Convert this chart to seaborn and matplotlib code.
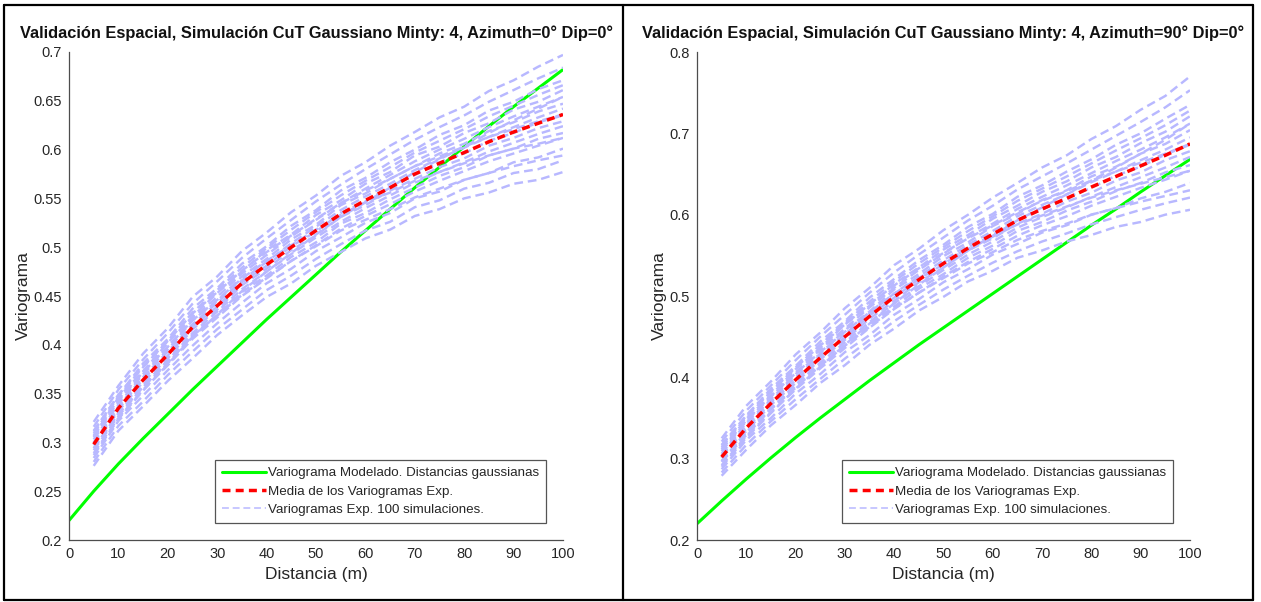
import numpy as np
import pandas as pd
import matplotlib
matplotlib.use("Agg")
import matplotlib.pyplot as plt
from matplotlib.lines import Line2D
from matplotlib.ticker import FuncFormatter
from matplotlib import font_manager
import seaborn as sns

# ---------------------------------------------------------------- data
lags = [5, 10, 15, 20, 25, 30, 35, 40, 45, 50, 55, 60, 65, 70, 75, 80, 85, 90, 95, 100]
model_lags = [0, 5, 10, 15, 20, 25, 30, 35, 40, 45, 50, 55, 60, 65, 70, 75, 80, 85, 90, 95, 100]

# variogram values below are stored in thousandths
model_az0 = [220, 250, 278, 304, 329, 354, 378, 402, 426, 449, 472, 495, 517, 539, 561, 582, 603, 624, 644, 663, 682]
mean_az0 = [298, 335, 364, 390, 418, 440, 463, 482, 500, 517, 534, 548, 561, 575, 586, 597, 608, 618, 627, 636]
sims_az0 = [
    [276, 312, 337, 363, 386, 410, 430, 449, 463, 481, 495, 509, 518, 532, 539, 550, 556, 565, 569, 577],
    [280, 317, 342, 369, 393, 416, 436, 456, 471, 488, 503, 517, 526, 541, 548, 560, 566, 576, 580, 589],
    [284, 322, 348, 374, 399, 422, 443, 463, 478, 496, 510, 525, 535, 550, 557, 569, 576, 587, 592, 601],
    [289, 325, 354, 379, 406, 428, 450, 468, 486, 502, 519, 532, 544, 557, 568, 578, 588, 596, 604, 612],
    [292, 327, 357, 381, 410, 430, 454, 471, 490, 505, 524, 535, 549, 561, 573, 582, 594, 601, 611, 617],
    [294, 330, 359, 384, 412, 434, 457, 475, 493, 510, 526, 540, 553, 566, 577, 587, 598, 607, 616, 624],
    [297, 332, 362, 386, 416, 436, 461, 478, 497, 512, 531, 543, 558, 570, 582, 591, 604, 612, 622, 629],
    [299, 334, 365, 389, 419, 439, 464, 481, 501, 516, 535, 547, 562, 574, 587, 596, 609, 617, 628, 635],
    [300, 337, 367, 393, 421, 443, 466, 485, 504, 521, 538, 552, 565, 579, 591, 602, 613, 623, 633, 642],
    [303, 339, 370, 395, 425, 445, 470, 488, 508, 523, 543, 555, 570, 583, 596, 606, 619, 628, 639, 647],
    [305, 342, 372, 398, 427, 449, 473, 492, 511, 528, 545, 560, 574, 588, 600, 611, 623, 634, 644, 654],
    [306, 346, 373, 402, 429, 453, 475, 497, 513, 533, 548, 565, 577, 594, 603, 617, 627, 641, 649, 661],
    [309, 347, 377, 404, 433, 456, 479, 499, 518, 536, 553, 568, 582, 597, 609, 621, 634, 645, 656, 666],
    [312, 348, 381, 406, 437, 458, 483, 501, 522, 538, 558, 571, 587, 600, 615, 625, 640, 649, 662, 671],
    [316, 354, 385, 412, 442, 465, 489, 509, 528, 547, 564, 580, 595, 610, 623, 635, 649, 661, 673, 684],
    [321, 358, 391, 417, 449, 470, 496, 515, 536, 553, 573, 587, 604, 618, 633, 644, 660, 671, 685, 697],
    [287, 324, 353, 380, 408, 431, 455, 475, 494, 513, 531, 546, 561, 577, 590, 603, 617, 630, 642, 654],
    [307, 344, 372, 398, 425, 446, 468, 486, 502, 518, 533, 546, 556, 568, 577, 586, 594, 601, 606, 612],
    [294, 329, 357, 382, 409, 430, 451, 469, 486, 501, 517, 528, 539, 551, 560, 569, 576, 583, 589, 594],
    [311, 349, 378, 404, 432, 454, 476, 495, 512, 529, 545, 558, 570, 583, 593, 603, 613, 621, 629, 636],
]

model_az90 = [220, 248, 275, 301, 326, 350, 373, 396, 418, 440, 461, 482, 503, 524, 545, 566, 587, 607, 628, 648, 668]
mean_az90 = [302, 338, 368, 397, 424, 450, 475, 499, 520, 540, 559, 576, 593, 607, 620, 634, 647, 660, 673, 687]
sims_az90 = [
    [279, 311, 341, 366, 393, 415, 440, 460, 482, 499, 518, 531, 547, 556, 567, 575, 585, 591, 600, 606],
    [283, 317, 346, 373, 398, 423, 446, 469, 489, 508, 525, 541, 555, 567, 577, 588, 597, 606, 614, 621],
    [287, 323, 350, 380, 404, 431, 452, 477, 496, 517, 533, 551, 564, 578, 587, 600, 608, 620, 628, 639],
    [292, 328, 357, 385, 411, 436, 461, 484, 504, 524, 542, 558, 574, 587, 598, 611, 622, 633, 643, 654],
    [296, 329, 361, 387, 415, 439, 465, 487, 509, 527, 547, 562, 580, 591, 605, 616, 629, 639, 652, 661],
    [297, 333, 362, 391, 418, 443, 468, 491, 512, 532, 551, 567, 584, 597, 609, 622, 634, 646, 658, 671],
    [301, 334, 366, 393, 422, 446, 472, 494, 517, 535, 556, 571, 589, 601, 616, 627, 642, 652, 667, 678],
    [303, 337, 369, 396, 425, 449, 476, 498, 521, 539, 560, 575, 594, 606, 621, 633, 648, 659, 674, 686],
    [304, 341, 371, 400, 427, 453, 479, 503, 524, 544, 563, 580, 598, 612, 625, 640, 653, 667, 680, 695],
    [306, 344, 373, 404, 429, 458, 481, 508, 527, 549, 566, 586, 601, 618, 630, 647, 659, 675, 687, 704],
    [309, 346, 376, 406, 434, 460, 486, 510, 532, 552, 572, 589, 607, 622, 636, 651, 666, 680, 695, 712],
    [311, 349, 378, 410, 436, 465, 488, 515, 535, 557, 575, 595, 611, 628, 641, 658, 671, 688, 702, 721],
    [314, 351, 382, 412, 440, 467, 493, 518, 540, 560, 580, 598, 617, 632, 647, 663, 679, 694, 710, 728],
    [317, 353, 386, 414, 444, 469, 498, 521, 544, 563, 585, 601, 622, 636, 653, 668, 686, 700, 718, 735],
    [321, 359, 390, 421, 450, 477, 504, 529, 551, 572, 593, 611, 631, 647, 663, 680, 697, 714, 732, 753],
    [325, 365, 395, 428, 455, 485, 510, 538, 558, 581, 600, 621, 639, 658, 673, 693, 709, 729, 746, 770],
    [290, 326, 356, 386, 413, 440, 466, 491, 514, 535, 556, 574, 593, 609, 625, 642, 658, 675, 692, 712],
    [312, 347, 377, 405, 431, 456, 480, 503, 522, 541, 558, 573, 588, 599, 610, 621, 630, 638, 646, 654],
    [297, 332, 361, 389, 414, 439, 462, 485, 504, 522, 540, 554, 569, 580, 589, 600, 608, 616, 623, 630],
    [316, 353, 383, 412, 439, 465, 490, 513, 534, 553, 571, 587, 603, 617, 629, 642, 653, 664, 675, 687],
]

titles = [
    "Validación Espacial, Simulación CuT Gaussiano Minty: 4, Azimuth=0° Dip=0°",
    "Validación Espacial, Simulación CuT Gaussiano Minty: 4, Azimuth=90° Dip=0°",
]
legend_labels = [
    "Variograma Modelado. Distancias gaussianas",
    "Media de los Variogramas Exp.",
    "Variogramas Exp. 100 simulaciones.",
]
x_label = "Distancia (m)"
y_label = "Variograma"
x_ticks = [0, 10, 20, 30, 40, 50, 60, 70, 80, 90, 100]
y_ticks_az0 = [0.2, 0.25, 0.3, 0.35, 0.4, 0.45, 0.5, 0.55, 0.6, 0.65, 0.7]
y_ticks_az90 = [0.2, 0.3, 0.4, 0.5, 0.6, 0.7, 0.8]

# ---------------------------------------------------------------- style
sns.set_style("white")
names = {f.name for f in font_manager.fontManager.ttflist}
family = ["Liberation Sans Narrow"] if "Liberation Sans Narrow" in names else []
plt.rcParams["font.family"] = family + ["Liberation Sans", "DejaVu Sans"]

GREEN = "#00ff00"
RED = "#ff0000"
SIM = "#b8b8ff"
AXC = "#4d4d4d"
TXT = "#262626"
SIM_DASH = (0, (3.6, 2.0))
MEAN_DASH = (0, (2.3, 1.5))


def milli(v):
    return np.asarray(v, dtype=float) / 1000.0


def sims_frame(sims):
    rows = []
    for k, curve in enumerate(sims):
        for lag, g in zip(lags, milli(curve)):
            rows.append({"sim": k, "lag": lag, "gamma": g})
    return pd.DataFrame(rows)


fig = plt.figure(figsize=(12.61, 6.02), dpi=100)
ax_l = fig.add_axes([69 / 1261, 62 / 602, 494 / 1261, 488 / 602])
ax_r = fig.add_axes([697 / 1261, 62 / 602, 493 / 1261, 488 / 602])

panels = [
    (ax_l, model_az0, mean_az0, sims_az0, titles[0], y_ticks_az0, (0.2, 0.7)),
    (ax_r, model_az90, mean_az90, sims_az90, titles[1], y_ticks_az90, (0.2, 0.8)),
]

for ax, model, mean, sims, title, yt, ylim in panels:
    sns.lineplot(x=model_lags, y=milli(model), ax=ax, color=GREEN, lw=2.2,
                 zorder=2)
    sns.lineplot(data=sims_frame(sims), x="lag", y="gamma", units="sim",
                 estimator=None, ax=ax, color=SIM, lw=1.75,
                 linestyle=SIM_DASH, zorder=3)
    sns.lineplot(x=lags, y=milli(mean), ax=ax, color=RED, lw=2.5,
                 linestyle=MEAN_DASH, zorder=4)

    ax.set_xlim(0, 100)
    ax.set_ylim(*ylim)
    ax.set_xticks(x_ticks)
    ax.set_yticks(yt)
    ax.yaxis.set_major_formatter(FuncFormatter(lambda v, p: f"{v:g}"))
    ax.tick_params(direction="in", length=4, width=0.8, color=AXC,
                   labelcolor=TXT, labelsize=10.5, pad=5)
    for side in ("top", "right"):
        ax.spines[side].set_visible(False)
    for side in ("left", "bottom"):
        ax.spines[side].set_color(AXC)
        ax.spines[side].set_linewidth(0.9)
    ax.set_xlabel(x_label, fontsize=12.5, color=TXT, labelpad=4)
    ax.set_ylabel(y_label, fontsize=12.5, color=TXT, labelpad=2)
    ax.set_title(title, fontsize=11.8, fontweight="bold", color="#111111", pad=10)

    handles = [
        Line2D([], [], color=GREEN, lw=2.2),
        Line2D([], [], color=RED, lw=2.5, linestyle=MEAN_DASH),
        Line2D([], [], color=SIM, lw=1.1, linestyle=(0, (4.5, 2.5))),
    ]
    leg = ax.legend(handles, legend_labels, loc="lower right", fontsize=9.6,
                    frameon=True, fancybox=False, framealpha=1,
                    edgecolor="#555555", handlelength=3.3, handletextpad=0.15,
                    labelspacing=0.45, borderpad=0.5, borderaxespad=1.3)
    leg.get_frame().set_linewidth(0.9)
    for t in leg.get_texts():
        t.set_color(TXT)

# panel frames
frame_kw = dict(color="black", lw=1.6, transform=fig.transFigure)
fx0, fx1, fxm = 4 / 1261, 1253 / 1261, 623 / 1261
fy0, fy1 = 2 / 602, 597 / 602
fig.add_artist(Line2D([fx0, fx1], [fy1, fy1], **frame_kw))
fig.add_artist(Line2D([fx0, fx1], [fy0, fy0], **frame_kw))
fig.add_artist(Line2D([fx0, fx0], [fy0, fy1], **frame_kw))
fig.add_artist(Line2D([fx1, fx1], [fy0, fy1], **frame_kw))
fig.add_artist(Line2D([fxm, fxm], [fy0, fy1], **frame_kw))

fig.savefig("out.png", dpi=100, facecolor="white")
